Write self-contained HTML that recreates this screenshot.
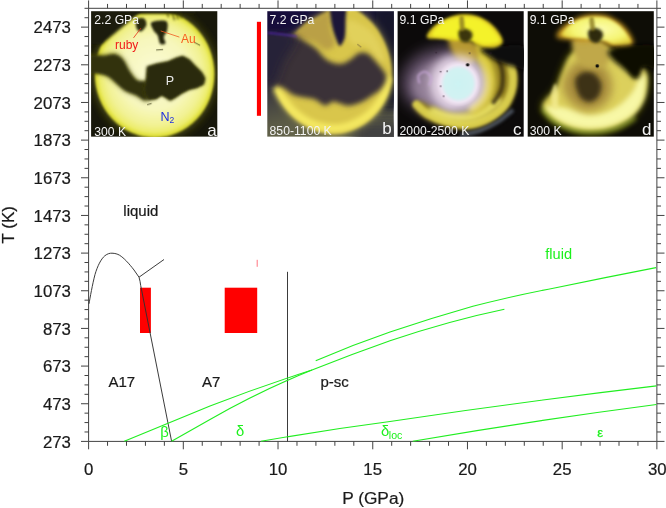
<!DOCTYPE html>
<html><head><meta charset="utf-8"><title>Phase diagram</title>
<style>
html,body{margin:0;padding:0;background:#fff;}
svg{display:block;will-change:transform;}
text{font-family:"Liberation Sans",Arial,sans-serif;}
</style></head><body>
<svg width="666" height="508" viewBox="0 0 666 508">
<rect width="666" height="508" fill="#fff"/>

<defs>
<filter id="b1" filterUnits="userSpaceOnUse" x="-30" y="-30" width="190" height="190"><feGaussianBlur stdDeviation="1"/></filter>
<filter id="b15" filterUnits="userSpaceOnUse" x="-30" y="-30" width="190" height="190"><feGaussianBlur stdDeviation="1.6"/></filter>
<filter id="b2" filterUnits="userSpaceOnUse" x="-30" y="-30" width="190" height="190"><feGaussianBlur stdDeviation="2.4"/></filter>
<filter id="b4" filterUnits="userSpaceOnUse" x="-30" y="-30" width="190" height="190"><feGaussianBlur stdDeviation="4"/></filter>
<filter id="b7" filterUnits="userSpaceOnUse" x="-30" y="-30" width="190" height="190"><feGaussianBlur stdDeviation="7"/></filter>

<radialGradient id="ga" cx="0.5" cy="0.5" r="0.5">
<stop offset="0" stop-color="#fbfbd6"/><stop offset="0.6" stop-color="#f7f7bc"/><stop offset="0.85" stop-color="#f2f294"/><stop offset="1" stop-color="#ecec60"/></radialGradient>

<linearGradient id="gbbg" x1="0" y1="0" x2="0.25" y2="1">
<stop offset="0" stop-color="#140e3c"/><stop offset="0.3" stop-color="#201a3c"/><stop offset="0.6" stop-color="#3a3840"/><stop offset="0.85" stop-color="#5a5a46"/><stop offset="1" stop-color="#66664c"/></linearGradient>
<radialGradient id="gb" cx="0.55" cy="0.5" r="0.5">
<stop offset="0" stop-color="#e6d670"/><stop offset="0.7" stop-color="#e0d060"/><stop offset="0.92" stop-color="#d6c648"/><stop offset="1" stop-color="#a09030"/></radialGradient>

</defs>
<svg x="91.1" y="11.2" width="126.2" height="125.5" viewBox="0 0 126.2 125.5" overflow="hidden">
<rect width="126.2" height="125.5" fill="#17170a"/>
<ellipse cx="63.5" cy="62.8" rx="62" ry="66" fill="#4c4c12" filter="url(#b4)"/>
<ellipse cx="63.5" cy="62.8" rx="59.8" ry="63.6" fill="#dede38" filter="url(#b1)"/>
<ellipse cx="63.5" cy="62.6" rx="57" ry="60.4" fill="url(#ga)" filter="url(#b15)"/>
<path d="M-5 34 L10.5 33 L46 3.4 L52 -5 L-5 -5Z" fill="#1c1c0a" filter="url(#b15)"/>
<path d="M-5.2 45.3 C-2.2 42.5 7.9 44.7 12.7 44.2 C17.5 43.8 20.5 41.9 23.7 42.6 C26.9 43.2 29.4 45.1 31.9 48.1 C34.5 51.1 36.3 56.8 38.8 60.5 C41.4 64.1 44.1 68.2 47.1 70.1 C50.1 72.1 55.1 69.0 56.7 72.2 C58.3 75.4 58.6 87.4 56.7 89.4 C54.9 91.4 49.4 85.8 45.7 84.2 C42.0 82.5 37.9 81.6 34.7 79.7 C31.5 77.9 29.4 75.3 26.4 72.9 C23.5 70.4 20.2 66.7 16.8 64.9 C13.4 63.0 9.5 62.5 5.8 61.8 C2.1 61.2 -3.4 63.9 -5.2 61.2 C-7.1 58.4 -8.2 48.1 -5.2 45.3Z" fill="#45450f" filter="url(#b2)"/>
<path d="M-5.2 45.3 C-2.2 42.5 7.9 44.7 12.7 44.2 C17.5 43.8 20.5 41.9 23.7 42.6 C26.9 43.2 29.4 45.1 31.9 48.1 C34.5 51.1 36.3 56.8 38.8 60.5 C41.4 64.1 44.1 68.2 47.1 70.1 C50.1 72.1 55.1 69.0 56.7 72.2 C58.3 75.4 58.6 87.4 56.7 89.4 C54.9 91.4 49.4 85.8 45.7 84.2 C42.0 82.5 37.9 81.6 34.7 79.7 C31.5 77.9 29.4 75.3 26.4 72.9 C23.5 70.4 20.2 66.7 16.8 64.9 C13.4 63.0 9.5 62.5 5.8 61.8 C2.1 61.2 -3.4 63.9 -5.2 61.2 C-7.1 58.4 -8.2 48.1 -5.2 45.3Z" fill="#33330b" filter="url(#b15)" transform="translate(1.2 3.2) scale(0.95)"/>
<path d="M55.5 55.2 L65.3 52.2 L77.0 49.9 L84.8 46.4 L91.6 44.4 L98.4 47.9 L104.3 54.2 L111.1 61.0 L114.5 66.9 L113.1 73.3 L106.3 76.6 L98.4 78.6 L90.6 82.5 L83.8 87.0 L78.9 89.7 L74.1 86.4 L70.1 84.4 L64.3 88.3 L56.5 88.9 L53.2 84.4 L52.0 77.6 L54.5 67.8Z" fill="#3a3a0c" filter="url(#b15)"/>
<path d="M55.5 55.2 L65.3 52.2 L77.0 49.9 L84.8 46.4 L91.6 44.4 L98.4 47.9 L104.3 54.2 L111.1 61.0 L114.5 66.9 L113.1 73.3 L106.3 76.6 L98.4 78.6 L90.6 82.5 L83.8 87.0 L78.9 89.7 L74.1 86.4 L70.1 84.4 L64.3 88.3 L56.5 88.9 L53.2 84.4 L52.0 77.6 L54.5 67.8Z" fill="#2b2b08" filter="url(#b1)" transform="translate(4.2 3.4) scale(0.95)"/>
<rect x="28" y="-6" width="76" height="8.6" fill="#1e1e08" filter="url(#b1)"/>
<path d="M81 1 L83.5 9 M85.5 1 L87 8 M89.5 1 L90.5 7 M76 1 L77.5 6" stroke="#3a3a0c" stroke-width="1.3" fill="none" filter="url(#b1)" opacity="0.85"/>
<path d="M65 38.8 L72 38.3 M103 31 L109 34.2 M56 93.5 L60.5 92.3" stroke="#2c2c0a" stroke-width="0.9" fill="none" opacity="0.8"/>
<path d="M44.9 8.5 C46.1 6.8 51.0 6.3 52.7 7.2 C54.5 8.1 55.8 11.5 55.3 13.7 C54.9 15.8 51.7 19.5 50.1 20.2 C48.5 20.8 46.6 19.5 45.7 17.6 C44.9 15.6 43.8 10.2 44.9 8.5Z" fill="#2a2a0a" filter="url(#b1)"/>
<path d="M60.5 11.1 C62.6 9.6 72.2 8.5 74.8 9.8 C77.4 11.1 76.5 16.3 76.1 18.9 C75.8 21.5 73.0 23.2 72.7 25.4 C72.4 27.5 74.9 30.6 74.3 31.9 C73.7 33.1 70.4 33.9 69.1 32.6 C67.8 31.3 67.6 26.4 66.5 24.1 C65.4 21.8 63.3 21.0 62.3 18.9 C61.3 16.7 58.4 12.6 60.5 11.1Z" fill="#26260a" filter="url(#b1)"/>
</svg>
<svg x="267.3" y="11.2" width="126.2" height="125.5" viewBox="0 0 126.2 125.5" overflow="hidden">
<rect width="126.2" height="125.5" fill="url(#gbbg)"/>
<rect x="104" y="-10" width="40" height="110" fill="#16162a" filter="url(#b7)" opacity="0.9"/>
<rect x="85" y="108" width="60" height="30" fill="#3c3c40" filter="url(#b7)" opacity="0.9"/>
<path d="M84.7 -3.2 C89.3 -1.9 90.5 -0.5 94.2 2.3 C97.9 5.1 103.1 9.5 106.7 13.7 C110.3 17.9 113.1 22.5 115.6 27.5 C118.1 32.5 120.4 38.4 121.9 43.9 C123.4 49.5 124.4 55.3 124.4 60.8 C124.4 66.3 123.8 71.1 121.9 76.9 C120.0 82.7 116.7 90.3 113.1 95.8 C109.5 101.3 105.1 105.9 100.5 109.7 C95.9 113.5 90.6 116.3 85.4 118.5 C80.1 120.6 74.8 122.4 69.0 122.6 C63.2 122.8 56.7 121.8 50.7 119.8 C44.6 117.8 38.0 114.6 32.7 110.8 C27.4 107.0 22.4 101.8 18.7 96.8 C15.0 91.8 12.4 85.8 10.7 80.8 C8.9 75.8 8.5 72.1 8.2 66.8 C7.9 61.5 7.3 54.5 8.7 48.8 C10.1 43.1 13.5 37.0 16.7 32.8 C19.9 28.5 24.7 26.3 27.7 23.3 C30.7 20.3 32.0 17.1 34.7 14.8 C37.4 12.6 40.7 11.5 43.7 9.8 C46.7 8.1 50.0 6.3 52.7 4.8 C55.4 3.3 57.4 2.5 59.7 0.8 C62.0 -0.9 62.5 -4.5 66.7 -5.2 C70.9 -5.9 80.1 -4.4 84.7 -3.2Z" fill="#8c8448" filter="url(#b4)"/>
<path d="M84.7 -3.2 C89.3 -1.9 90.5 -0.5 94.2 2.3 C97.9 5.1 103.1 9.5 106.7 13.7 C110.3 17.9 113.1 22.5 115.6 27.5 C118.1 32.5 120.4 38.4 121.9 43.9 C123.4 49.5 124.4 55.3 124.4 60.8 C124.4 66.3 123.8 71.1 121.9 76.9 C120.0 82.7 116.7 90.3 113.1 95.8 C109.5 101.3 105.1 105.9 100.5 109.7 C95.9 113.5 90.6 116.3 85.4 118.5 C80.1 120.6 74.8 122.4 69.0 122.6 C63.2 122.8 56.7 121.8 50.7 119.8 C44.6 117.8 38.0 114.6 32.7 110.8 C27.4 107.0 22.4 101.8 18.7 96.8 C15.0 91.8 12.4 85.8 10.7 80.8 C8.9 75.8 8.5 72.1 8.2 66.8 C7.9 61.5 7.3 54.5 8.7 48.8 C10.1 43.1 13.5 37.0 16.7 32.8 C19.9 28.5 24.7 26.3 27.7 23.3 C30.7 20.3 32.0 17.1 34.7 14.8 C37.4 12.6 40.7 11.5 43.7 9.8 C46.7 8.1 50.0 6.3 52.7 4.8 C55.4 3.3 57.4 2.5 59.7 0.8 C62.0 -0.9 62.5 -4.5 66.7 -5.2 C70.9 -5.9 80.1 -4.4 84.7 -3.2Z" fill="#d9c64c" filter="url(#b15)"/>
<path d="M120.7 68.8 C119.9 71.5 118.7 79.6 116.2 84.8 C113.7 90.0 109.6 95.6 105.7 99.8 C101.8 104.0 97.4 107.1 92.7 109.8 C88.0 112.5 83.0 114.6 77.7 115.8 C72.4 117.0 66.5 117.5 60.7 116.8 C54.9 116.1 48.2 114.3 42.7 111.8 C37.2 109.3 32.2 105.8 27.7 101.8 C23.2 97.8 18.6 91.8 15.7 87.8 C12.8 83.8 11.1 79.5 10.2 77.8" fill="none" stroke="#f6ea62" stroke-width="8" stroke-linecap="round" filter="url(#b2)"/>
<path d="M82.7 8.8 C87.0 9.1 99.0 15.0 104.7 20.8 C110.4 26.6 115.4 38.8 116.7 43.8 C118.0 48.8 115.7 52.3 112.7 50.8 C109.7 49.3 103.4 37.8 98.7 34.8 C94.0 31.8 88.0 35.5 84.7 32.8 C81.4 30.1 79.0 22.8 78.7 18.8 C78.4 14.8 78.4 8.5 82.7 8.8Z" fill="#e4d460" filter="url(#b2)" opacity="0.8"/>
<path d="M24.7 24.8 C27.0 22.1 30.4 18.1 34.7 14.8 C39.0 11.5 46.2 7.1 50.7 4.8 C55.2 2.5 59.5 -1.5 61.7 0.8 C63.9 3.1 62.7 13.5 63.7 18.8 C64.7 24.1 68.5 29.5 67.7 32.8 C66.9 36.1 62.2 39.1 58.7 38.8 C55.2 38.5 51.0 32.5 46.7 30.8 C42.4 29.1 37.0 28.8 32.7 28.8 C28.4 28.8 22.0 31.5 20.7 30.8 C19.4 30.1 22.4 27.5 24.7 24.8Z" fill="#b09444" opacity="0.75" filter="url(#b2)"/>
<path d="M-27.3 8.8 C-20.6 0.3 3.4 19.0 12.7 21.8 C22.0 24.6 22.8 23.1 28.5 25.4 C34.2 27.7 41.5 31.9 46.7 35.8 C51.9 39.7 55.4 46.0 59.7 48.8 C64.0 51.6 68.9 52.7 72.7 52.7 C76.5 52.7 79.5 50.6 82.7 48.8 C85.9 47.0 88.7 42.8 91.7 41.8 C94.7 40.8 97.4 40.8 100.5 42.6 C103.6 44.4 107.6 49.3 110.6 52.7 C113.5 56.1 116.9 59.9 118.2 62.8 C119.4 65.7 118.9 67.7 118.1 70.3 C117.2 72.9 115.4 75.8 113.1 78.2 C110.8 80.6 107.5 82.4 104.3 84.5 C101.2 86.6 98.0 89.1 94.2 90.8 C90.4 92.5 85.2 94.2 81.6 94.5 C78.0 94.8 75.3 93.0 72.7 92.3 C70.0 91.6 68.2 90.0 65.7 90.3 C63.2 90.6 60.9 94.7 57.7 94.3 C54.5 93.9 51.6 89.5 46.5 87.8 C41.4 86.1 33.2 86.2 27.0 83.9 C20.8 81.6 18.4 76.0 9.4 74.2 C0.3 72.4 -21.2 83.7 -27.3 72.8 C-33.4 61.9 -34.0 17.3 -27.3 8.8Z" fill="#3b3338" filter="url(#b2)"/>
<path d="M-12 16 L20 20 L30 28 L16 50 L8 72 L-12 76Z" fill="#262238" filter="url(#b4)"/>
<path d="M-10 -10 L40 -10 L34 14 L16 20 L-10 22Z" fill="#150f3a" filter="url(#b2)"/>
<path d="M62.7 -9.2 C65.1 -11.5 75.1 -12.5 77.7 -9.2 C80.3 -5.9 78.2 5.1 78.2 10.8 C78.2 16.5 78.1 21.5 77.7 24.8 C77.3 28.1 76.6 29.1 75.7 30.8 C74.8 32.5 73.6 35.1 72.5 34.8 C71.4 34.5 70.4 31.8 69.2 28.8 C68.0 25.8 66.2 20.8 65.2 16.8 C64.2 12.8 63.6 9.1 63.2 4.8 C62.8 0.5 60.3 -6.9 62.7 -9.2Z" fill="#1c1238" filter="url(#b15)"/>
<path d="M0.5 21.5 L29.5 25" stroke="#5c2cc0" stroke-width="1.3" opacity="0.85" filter="url(#b1)"/>
<path d="M90 33 L94 36" stroke="#5a4c38" stroke-width="1" opacity="0.7"/>
</svg><defs>
<radialGradient id="gchot" cx="0.5" cy="0.5" r="0.5">
<stop offset="0" stop-color="#cdf3f3"/><stop offset="0.62" stop-color="#d2f2f2"/><stop offset="0.8" stop-color="#f0e6f4"/><stop offset="1" stop-color="#f0e0f0" stop-opacity="0"/></radialGradient>
<radialGradient id="gdlobe" cx="0.55" cy="0.45" r="0.6">
<stop offset="0" stop-color="#fcfcb0"/><stop offset="0.65" stop-color="#f6f674"/><stop offset="1" stop-color="#e6d23c"/></radialGradient>
</defs>
<svg x="397.6" y="11.2" width="126.2" height="125.5" viewBox="0 0 126.2 125.5" overflow="hidden">
<rect width="126.2" height="125.5" fill="#0c0a0a"/>
<path d="M4.3 64.4 C6.5 56.9 13.0 47.8 21.8 42.9 C30.6 38.1 46.9 34.2 57.0 35.1 C67.0 36.1 76.8 42.0 82.3 48.8 C87.9 55.6 90.5 67.7 90.1 76.1 C89.8 84.6 85.9 94.3 80.4 99.6 C74.9 104.8 65.7 107.0 57.0 107.4 C48.2 107.7 35.8 104.8 27.7 101.5 C19.5 98.2 12.1 94.0 8.2 87.8 C4.3 81.7 2.0 71.9 4.3 64.4Z" fill="#5c4c62" filter="url(#b7)"/>
<path d="M16.0 66.4 C18.7 60.8 26.7 54.0 33.5 50.8 C40.4 47.5 53.1 39.0 57.0 46.8 C60.9 54.7 60.9 89.3 57.0 97.6 C53.1 105.9 40.2 98.9 33.5 96.6 C26.9 94.3 19.9 89.0 16.9 83.9 C14.0 78.9 13.2 71.9 16.0 66.4Z" fill="#9c88a0" filter="url(#b4)" opacity="0.85"/>
<path d="M76.5 35.1 C80.7 34.5 93.4 38.1 99.9 41.0 C106.4 43.9 112.3 48.1 115.5 52.7 C118.7 57.3 118.8 63.4 119.0 68.3 C119.2 73.2 118.4 77.0 116.7 82.0 C115.0 86.9 113.0 93.0 108.9 98.0 C104.8 102.9 98.1 108.3 92.1 111.7 C86.0 115.0 80.1 117.4 72.6 117.9 C65.1 118.4 54.7 116.6 47.2 114.8 C39.7 113.0 32.8 110.2 27.7 107.0 C22.5 103.7 17.0 98.0 16.4 95.3 C15.7 92.6 20.3 90.4 23.8 90.8 C27.3 91.2 31.9 95.8 37.4 97.6 C43.0 99.4 51.1 101.5 57.0 101.5 C62.8 101.5 68.3 99.9 72.6 97.6 C76.8 95.3 80.1 92.1 82.3 87.8 C84.6 83.6 86.2 77.4 86.2 72.2 C86.2 67.0 84.3 61.2 82.3 56.6 C80.4 52.1 75.5 48.5 74.5 44.9 C73.6 41.3 72.2 35.8 76.5 35.1Z" fill="#9a8828" filter="url(#b2)"/>
<path d="M113.6 53.7 C113.9 56.0 115.5 62.8 115.5 67.3 C115.5 71.9 115.2 76.3 113.6 81.0 C111.9 85.7 109.7 91.3 105.8 95.6 C101.9 100.0 95.8 104.4 90.1 107.4 C84.4 110.3 78.6 112.7 71.6 113.2 C64.6 113.7 55.2 112.1 48.2 110.3 C41.2 108.5 34.5 105.3 29.6 102.5 C24.8 99.6 20.7 94.8 18.9 93.3" fill="none" stroke="#d8cc4c" stroke-width="8" stroke-linecap="round" filter="url(#b15)"/>
<path d="M99.9 89.8 C97.6 91.6 91.1 97.8 86.2 100.5 C81.4 103.3 76.5 105.6 70.6 106.4 C64.8 107.2 57.0 106.5 51.1 105.4 C45.2 104.3 38.1 100.9 35.5 99.9" fill="none" stroke="#e6de62" stroke-width="9" stroke-linecap="round" filter="url(#b2)"/>
<path d="M80.4 39.0 C81.8 41.6 87.2 49.1 89.2 54.7 C91.1 60.2 92.4 66.7 92.1 72.2 C91.8 77.8 89.8 83.6 87.2 87.8 C84.6 92.1 78.3 96.0 76.5 97.6" fill="none" stroke="#dccc3c" stroke-width="11" stroke-linecap="round" filter="url(#b2)"/>
<path d="M99.9 44.9 C100.7 47.5 104.1 55.0 104.8 60.5 C105.4 66.0 105.3 73.0 103.8 78.1 C102.3 83.1 97.3 88.7 96.0 90.8" fill="none" stroke="#3a2e10" stroke-width="4.5" stroke-linecap="round" filter="url(#b15)" opacity="0.85"/>
<path d="M82.3 37.4 C84.6 35.8 97.1 34.9 104.8 34.7 C112.4 34.5 124.3 32.5 128.2 36.3 C132.1 40.1 129.9 54.1 128.2 57.4 C126.5 60.6 120.9 56.4 117.9 55.8 C114.8 55.2 113.0 54.8 110.1 53.8 C107.1 52.9 103.4 51.8 100.3 50.3 C97.2 48.8 94.3 47.0 91.3 44.9 C88.3 42.7 80.1 39.1 82.3 37.4Z" fill="#0e0a0a" filter="url(#b2)"/>
<path d="M62.8 124.0 C66.1 123.2 76.2 121.6 82.3 119.5 C88.5 117.3 94.4 114.4 99.9 110.9 C105.4 107.4 112.9 100.6 115.5 98.6" fill="none" stroke="#5a6472" stroke-width="4" filter="url(#b15)" opacity="0.8"/>
<path d="M51.1 28.1 C52.4 25.5 58.6 25.5 62.8 26.1 C67.0 26.8 73.6 29.1 76.5 32.0 C79.4 34.9 81.0 40.1 80.4 43.7 C79.7 47.3 75.5 52.2 72.6 53.5 C69.6 54.8 65.7 53.5 62.8 51.5 C59.9 49.6 57.0 45.6 55.0 41.7 C53.1 37.8 49.8 30.7 51.1 28.1Z" fill="#b89a30" filter="url(#b2)"/>
<path d="M29.6 26.5 C27.7 24.7 31.5 20.1 33.9 17.3 C36.3 14.5 40.0 12.0 44.1 9.7 C48.1 7.5 52.7 4.9 58.1 3.9 C63.5 2.9 71.1 2.8 76.5 3.9 C81.8 4.9 86.2 7.5 90.1 10.1 C94.1 12.8 97.8 16.5 100.3 19.9 C102.8 23.3 105.5 27.8 105.2 30.4 C104.8 33.1 101.5 35.0 98.3 35.9 C95.2 36.8 89.7 36.4 86.2 35.9 C82.8 35.4 79.7 34.1 77.5 32.8 C75.2 31.5 76.0 28.5 72.6 28.1 C69.2 27.6 61.5 30.0 57.0 30.0 C52.4 30.0 49.8 28.7 45.2 28.1 C40.7 27.5 31.5 28.3 29.6 26.5Z" fill="#e0cc20" filter="url(#b15)"/>
<path d="M34.3 23.8 C34.0 21.5 39.3 15.3 43.3 12.5 C47.3 9.6 52.6 7.6 58.1 6.6 C63.7 5.6 71.4 5.6 76.5 6.6 C81.6 7.6 85.0 9.9 88.6 12.5 C92.2 15.0 95.8 18.8 97.9 21.8 C100.1 24.8 103.4 28.5 101.5 30.4 C99.5 32.3 90.2 33.2 86.2 33.2 C82.2 33.1 82.3 31.0 77.5 30.0 C72.6 29.1 62.3 27.9 57.0 27.3 C51.6 26.6 49.0 26.7 45.2 26.1 C41.5 25.5 34.6 26.1 34.3 23.8Z" fill="#f4f22a" filter="url(#b15)"/>
<path d="M60.9 20.3 C61.5 18.3 64.6 17.3 66.7 17.3 C68.8 17.3 72.2 18.8 73.6 20.3 C74.9 21.7 75.2 24.3 74.5 26.1 C73.9 27.9 71.6 30.5 69.6 31.0 C67.7 31.5 64.3 30.8 62.8 29.1 C61.4 27.3 60.2 22.2 60.9 20.3Z" fill="#3a3410" filter="url(#b15)"/>
<path d="M61.8 6.6 C62.3 4.5 64.9 3.7 65.7 5.6 C66.6 7.6 67.2 16.2 66.7 18.3 C66.2 20.4 63.6 20.3 62.8 18.3 C62.0 16.4 61.4 8.7 61.8 6.6Z" fill="#8a7a20" filter="url(#b1)" opacity="0.8"/>
<circle cx="60.8" cy="72.6" r="29" fill="#f4e6f6" opacity="0.8" filter="url(#b4)"/>
<ellipse cx="60.9" cy="72.3" rx="22.5" ry="23.5" fill="url(#gchot)"/>
<path d="M21.8 72.2 C21.7 70.9 19.9 66.4 20.8 64.4 C21.8 62.5 25.6 60.2 27.7 60.5 C29.8 60.8 32.9 64.1 33.5 66.4 C34.2 68.6 31.9 72.9 31.6 74.2" fill="none" stroke="#c8a8d8" stroke-width="2" filter="url(#b1)" opacity="0.8"/>
<circle cx="70" cy="53.6" r="1.7" fill="#101010"/>
<circle cx="43" cy="60.5" r="0.7" fill="#302030"/>
<circle cx="49.5" cy="60" r="0.7" fill="#302030"/>
<circle cx="43" cy="75" r="0.7" fill="#302030"/>
<circle cx="46" cy="85" r="0.7" fill="#302030"/>
<circle cx="38.5" cy="41.5" r="0.7" fill="#302030"/>
<circle cx="72" cy="42" r="0.7" fill="#302030"/>
<circle cx="93" cy="42" r="0.7" fill="#302030"/>
</svg>
<svg x="527.7" y="11.2" width="126.2" height="125.5" viewBox="0 0 126.2 125.5" overflow="hidden">
<rect width="126.2" height="125.5" fill="#0e0d06"/>
<path d="M43.2 42.9 C47.9 38.4 56.2 34.2 62.7 33.2 C69.2 32.2 76.7 34.2 82.2 37.1 C87.8 40.0 91.7 45.5 95.9 50.8 C100.1 56.0 104.4 67.3 107.6 68.3 C110.9 69.3 113.3 56.6 115.4 56.6 C117.5 56.6 120.0 63.0 120.1 68.3 C120.2 73.7 118.8 82.6 116.2 88.8 C113.6 95.0 109.5 100.9 104.7 105.4 C99.8 110.0 93.5 113.7 87.1 116.1 C80.8 118.6 73.5 119.9 66.6 120.2 C59.8 120.6 52.8 120.0 46.1 118.3 C39.5 116.5 31.8 113.3 26.6 109.7 C21.4 106.1 16.2 100.3 14.7 96.8 C13.2 93.3 15.7 91.9 17.8 88.8 C20.0 85.7 24.8 82.8 27.6 78.1 C30.3 73.4 31.8 66.4 34.4 60.5 C37.0 54.7 38.5 47.5 43.2 42.9Z" fill="#7a7a18" filter="url(#b4)"/>
<path d="M43.2 42.9 C47.9 38.4 56.2 34.2 62.7 33.2 C69.2 32.2 76.7 34.2 82.2 37.1 C87.8 40.0 91.7 45.5 95.9 50.8 C100.1 56.0 104.4 67.3 107.6 68.3 C110.9 69.3 113.3 56.6 115.4 56.6 C117.5 56.6 120.0 63.0 120.1 68.3 C120.2 73.7 118.8 82.6 116.2 88.8 C113.6 95.0 109.5 100.9 104.7 105.4 C99.8 110.0 93.5 113.7 87.1 116.1 C80.8 118.6 73.5 119.9 66.6 120.2 C59.8 120.6 52.8 120.0 46.1 118.3 C39.5 116.5 31.8 113.3 26.6 109.7 C21.4 106.1 16.2 100.3 14.7 96.8 C13.2 93.3 15.7 91.9 17.8 88.8 C20.0 85.7 24.8 82.8 27.6 78.1 C30.3 73.4 31.8 66.4 34.4 60.5 C37.0 54.7 38.5 47.5 43.2 42.9Z" fill="#dcd05c" filter="url(#b2)" transform="translate(1.4 1) scale(0.98)"/>
<path d="M107.6 106.6 C104.6 108.2 96.5 114.2 89.7 116.5 C82.8 118.9 74.0 120.5 66.6 120.8 C59.3 121.2 52.3 120.5 45.5 118.7 C38.8 116.8 31.2 113.3 26.0 109.7 C20.9 106.1 16.6 99.3 14.7 97.2" fill="none" stroke="#b4cc34" stroke-width="4" filter="url(#b2)" opacity="0.7"/>
<path d="M117.8 63.4 C118.5 66.7 118.0 80.2 115.8 86.9 C113.6 93.5 109.5 99.1 104.7 103.5 C99.9 107.8 93.5 110.9 87.1 113.2 C80.8 115.5 73.4 116.8 66.6 117.1 C59.9 117.4 53.1 116.8 46.7 115.2 C40.4 113.5 33.4 110.6 28.6 107.4 C23.7 104.1 16.4 97.4 17.8 95.6 C19.3 93.9 29.9 95.3 37.3 96.6 C44.8 97.9 54.6 103.3 62.7 103.5 C70.8 103.6 79.3 101.2 86.1 97.6 C93.0 94.0 99.5 87.0 103.7 82.0 C107.9 76.9 109.2 70.4 111.5 67.3 C113.9 64.3 117.0 60.2 117.8 63.4Z" fill="#f8f8a6" filter="url(#b2)"/>
<path d="M37.3 64.4 C39.6 59.9 44.2 53.4 49.1 50.8 C53.9 48.1 61.4 47.2 66.6 48.8 C71.8 50.4 77.4 55.6 80.3 60.5 C83.2 65.4 84.8 72.5 84.2 78.1 C83.5 83.6 80.6 90.1 76.4 93.7 C72.1 97.3 64.3 99.9 58.8 99.6 C53.3 99.2 47.1 95.3 43.2 91.7 C39.3 88.2 36.4 82.6 35.4 78.1 C34.4 73.5 35.1 69.0 37.3 64.4Z" fill="#a88c3c" filter="url(#b4)" opacity="0.95"/>
<path d="M23.7 82.0 C24.2 78.1 26.4 72.2 27.6 72.2 C28.7 72.2 30.2 77.8 30.5 82.0 C30.8 86.2 30.5 95.3 29.5 97.6 C28.6 99.9 25.6 98.2 24.7 95.6 C23.7 93.0 23.2 85.9 23.7 82.0Z" fill="#f4ec90" filter="url(#b15)" opacity="0.8"/>
<path d="M48.1 66.4 C49.5 63.8 53.8 61.2 56.9 60.5 C59.9 59.9 63.9 60.5 66.6 62.5 C69.4 64.4 72.6 68.6 73.5 72.2 C74.3 75.8 73.3 80.8 71.5 83.9 C69.7 87.0 65.8 90.3 62.7 90.8 C59.6 91.3 55.4 89.3 53.0 86.9 C50.5 84.4 48.9 79.5 48.1 76.1 C47.3 72.7 46.6 69.0 48.1 66.4Z" fill="#3e3212" filter="url(#b2)"/>
<path d="M45.1 28.1 C47.7 25.2 57.5 25.5 62.7 26.1 C67.9 26.8 73.1 29.1 76.4 32.0 C79.6 34.9 82.2 39.8 82.2 43.7 C82.2 47.6 80.6 53.5 76.4 55.4 C72.1 57.4 61.7 57.4 56.9 55.4 C52.0 53.5 49.1 48.2 47.1 43.7 C45.1 39.1 42.5 31.0 45.1 28.1Z" fill="#c0a848" filter="url(#b2)"/>
<path d="M29.1 26.1 C27.3 24.1 31.3 19.6 33.8 16.8 C36.4 14.0 40.3 11.5 44.4 9.3 C48.5 7.2 53.1 4.6 58.4 3.7 C63.8 2.7 71.0 2.6 76.4 3.7 C81.7 4.8 86.4 7.4 90.4 10.1 C94.5 12.9 98.0 16.6 100.6 20.3 C103.1 23.9 105.8 29.1 105.7 32.0 C105.5 34.8 103.1 36.8 99.8 37.4 C96.5 38.1 90.0 36.8 86.1 35.9 C82.2 35.0 78.7 33.2 76.4 32.0 C74.1 30.7 75.7 28.7 72.5 28.5 C69.2 28.2 61.4 30.4 56.9 30.4 C52.3 30.5 49.8 29.6 45.1 28.9 C40.5 28.1 31.0 28.1 29.1 26.1Z" fill="#c89820" filter="url(#b2)"/>
<path d="M34.2 23.4 C34.0 21.1 39.6 15.3 43.6 12.5 C47.6 9.6 53.0 7.3 58.4 6.2 C63.9 5.2 71.2 5.2 76.4 6.2 C81.5 7.3 85.6 9.9 89.3 12.5 C92.9 15.1 96.0 18.5 98.2 21.8 C100.5 25.2 104.6 30.5 102.5 32.4 C100.5 34.3 90.3 33.6 86.1 33.2 C81.9 32.7 82.2 30.6 77.4 29.6 C72.5 28.7 62.2 27.8 56.9 27.3 C51.5 26.8 48.9 27.2 45.1 26.5 C41.4 25.9 34.5 25.7 34.2 23.4Z" fill="url(#gdlobe)" filter="url(#b15)"/>
<path d="M60.4 20.3 C61.1 18.2 64.3 16.8 66.6 16.8 C68.9 16.7 72.7 18.3 74.0 19.9 C75.4 21.4 75.6 24.2 74.8 26.1 C74.1 28.1 71.6 31.1 69.5 31.6 C67.5 32.1 63.9 30.9 62.3 29.1 C60.8 27.2 59.7 22.3 60.4 20.3Z" fill="#2e2a0c" filter="url(#b15)"/>
<path d="M61.7 7.6 C62.2 5.6 64.8 4.8 65.6 6.6 C66.5 8.4 67.4 16.4 67.0 18.3 C66.6 20.3 64.0 20.1 63.1 18.3 C62.2 16.5 61.3 9.5 61.7 7.6Z" fill="#8a7a20" filter="url(#b1)" opacity="0.8"/>
<path d="M81.3 38.8 C84.7 36.6 96.7 34.8 104.7 34.3 C112.7 33.8 125.0 32.0 129.1 35.9 C133.1 39.7 131.4 54.3 129.1 57.4 C126.8 60.4 118.7 52.8 115.4 54.4 C112.2 56.1 112.8 66.6 109.6 67.1 C106.3 67.6 100.1 60.6 95.9 57.4 C91.7 54.1 86.6 50.7 84.2 47.6 C81.7 44.5 77.8 41.0 81.3 38.8Z" fill="#0e0d06" filter="url(#b2)"/>
<circle cx="69.5" cy="54.7" r="1.8" fill="#0a0a0a"/>
</svg>
<g stroke="#424242" stroke-width="1" fill="none">
<path d="M88.60 8.31H656.89V441.40H88.60Z"/>
<path d="M88.60 441.40v7.9M88.60 8.31v-7.9M107.54 441.40v4.4M107.54 8.31v-4.4M126.49 441.40v4.4M126.49 8.31v-4.4M145.43 441.40v4.4M145.43 8.31v-4.4M164.37 441.40v4.4M164.37 8.31v-4.4M183.31 441.40v7.9M183.31 8.31v-7.9M202.26 441.40v4.4M202.26 8.31v-4.4M221.20 441.40v4.4M221.20 8.31v-4.4M240.14 441.40v4.4M240.14 8.31v-4.4M259.09 441.40v4.4M259.09 8.31v-4.4M278.03 441.40v7.9M278.03 8.31v-7.9M296.97 441.40v4.4M296.97 8.31v-4.4M315.92 441.40v4.4M315.92 8.31v-4.4M334.86 441.40v4.4M334.86 8.31v-4.4M353.80 441.40v4.4M353.80 8.31v-4.4M372.75 441.40v7.9M372.75 8.31v-7.9M391.69 441.40v4.4M391.69 8.31v-4.4M410.63 441.40v4.4M410.63 8.31v-4.4M429.57 441.40v4.4M429.57 8.31v-4.4M448.52 441.40v4.4M448.52 8.31v-4.4M467.46 441.40v7.9M467.46 8.31v-7.9M486.40 441.40v4.4M486.40 8.31v-4.4M505.35 441.40v4.4M505.35 8.31v-4.4M524.29 441.40v4.4M524.29 8.31v-4.4M543.23 441.40v4.4M543.23 8.31v-4.4M562.18 441.40v7.9M562.18 8.31v-7.9M581.12 441.40v4.4M581.12 8.31v-4.4M600.06 441.40v4.4M600.06 8.31v-4.4M619.00 441.40v4.4M619.00 8.31v-4.4M637.95 441.40v4.4M637.95 8.31v-4.4M656.89 441.40v7.9M656.89 8.31v-7.9M88.60 441.40h-7.6M656.89 441.40h7.6M88.60 431.98h-4.1M656.89 431.98h4.1M88.60 422.57h-4.1M656.89 422.57h4.1M88.60 413.15h-4.1M656.89 413.15h4.1M88.60 403.74h-7.6M656.89 403.74h7.6M88.60 394.32h-4.1M656.89 394.32h4.1M88.60 384.91h-4.1M656.89 384.91h4.1M88.60 375.50h-4.1M656.89 375.50h4.1M88.60 366.08h-7.6M656.89 366.08h7.6M88.60 356.66h-4.1M656.89 356.66h4.1M88.60 347.25h-4.1M656.89 347.25h4.1M88.60 337.83h-4.1M656.89 337.83h4.1M88.60 328.42h-7.6M656.89 328.42h7.6M88.60 319.00h-4.1M656.89 319.00h4.1M88.60 309.59h-4.1M656.89 309.59h4.1M88.60 300.17h-4.1M656.89 300.17h4.1M88.60 290.76h-7.6M656.89 290.76h7.6M88.60 281.34h-4.1M656.89 281.34h4.1M88.60 271.93h-4.1M656.89 271.93h4.1M88.60 262.51h-4.1M656.89 262.51h4.1M88.60 253.10h-7.6M656.89 253.10h7.6M88.60 243.68h-4.1M656.89 243.68h4.1M88.60 234.27h-4.1M656.89 234.27h4.1M88.60 224.85h-4.1M656.89 224.85h4.1M88.60 215.44h-7.6M656.89 215.44h7.6M88.60 206.02h-4.1M656.89 206.02h4.1M88.60 196.61h-4.1M656.89 196.61h4.1M88.60 187.19h-4.1M656.89 187.19h4.1M88.60 177.78h-7.6M656.89 177.78h7.6M88.60 168.37h-4.1M656.89 168.37h4.1M88.60 158.95h-4.1M656.89 158.95h4.1M88.60 149.53h-4.1M656.89 149.53h4.1M88.60 140.12h-7.6M656.89 140.12h7.6M88.60 130.70h-4.1M656.89 130.70h4.1M88.60 121.29h-4.1M656.89 121.29h4.1M88.60 111.88h-4.1M656.89 111.88h4.1M88.60 102.46h-7.6M656.89 102.46h7.6M88.60 93.04h-4.1M656.89 93.04h4.1M88.60 83.63h-4.1M656.89 83.63h4.1M88.60 74.21h-4.1M656.89 74.21h4.1M88.60 64.80h-7.6M656.89 64.80h7.6M88.60 55.38h-4.1M656.89 55.38h4.1M88.60 45.97h-4.1M656.89 45.97h4.1M88.60 36.56h-4.1M656.89 36.56h4.1M88.60 27.14h-7.6M656.89 27.14h7.6M88.60 17.72h-4.1M656.89 17.72h4.1M88.60 8.31h-4.1M656.89 8.31h4.1"/>
</g>
<g font-size="16.8" fill="#1a1a1a" stroke="#1a1a1a" stroke-width="0.22">
<text x="70.9" y="447.5" text-anchor="end">273</text>
<text x="70.9" y="409.8" text-anchor="end">473</text>
<text x="70.9" y="372.2" text-anchor="end">673</text>
<text x="70.9" y="334.5" text-anchor="end">873</text>
<text x="70.9" y="296.9" text-anchor="end">1073</text>
<text x="70.9" y="259.2" text-anchor="end">1273</text>
<text x="70.9" y="221.5" text-anchor="end">1473</text>
<text x="70.9" y="183.9" text-anchor="end">1673</text>
<text x="70.9" y="146.2" text-anchor="end">1873</text>
<text x="70.9" y="108.6" text-anchor="end">2073</text>
<text x="70.9" y="70.9" text-anchor="end">2273</text>
<text x="70.9" y="33.2" text-anchor="end">2473</text>
<text x="88.6" y="474.6" text-anchor="middle">0</text>
<text x="183.3" y="474.6" text-anchor="middle">5</text>
<text x="278.0" y="474.6" text-anchor="middle">10</text>
<text x="372.7" y="474.6" text-anchor="middle">15</text>
<text x="467.5" y="474.6" text-anchor="middle">20</text>
<text x="562.2" y="474.6" text-anchor="middle">25</text>
<text x="657.3" y="474.6" text-anchor="middle">30</text>
</g>
<text x="373.2" y="503.8" font-size="17.3" fill="#1a1a1a" stroke="#1a1a1a" stroke-width="0.22" text-anchor="middle">P (GPa)</text>
<text transform="translate(14.4 224.7) rotate(-90)" font-size="17" fill="#1a1a1a" stroke="#1a1a1a" stroke-width="0.22" text-anchor="middle">T (K)</text>
<g fill="none" stroke="#303030" stroke-width="0.95" stroke-linejoin="round">
<path d="M89 303.8 C90 298 92.5 284 95 274.5 C97.5 266 101 259 104.8 255.8 C107.5 253.6 110 253.1 112 253.2 C115 253.3 117.5 254 119.5 255.2 C124 258 129 263.5 134 270 L139 277.2"/>
<path d="M139 277.2 L164 259.5"/>
<path d="M287.5 271.8 V441.4"/>
</g>
<rect x="140" y="287.7" width="10.9" height="45.3" fill="#ff0000"/>
<rect x="224.7" y="287.7" width="32.5" height="45.3" fill="#ff0000"/>
<rect x="256.9" y="21.8" width="4.1" height="94" fill="#ff0000"/>
<path d="M257.2 259.8V266.8" stroke="#ff5060" stroke-width="0.8" fill="none"/>
<path d="M139 277.2 C140 280 140.3 283 140.7 285.5 L171.6 441.3" stroke="#303030" stroke-width="0.95" fill="none"/>
<g fill="none" stroke="#20ee20" stroke-width="1.1">
<path d="M124.3 441.3 L210 406 Q262 386 312 370"/>
<path d="M171.6 441.3 L210 419.4 Q262 390 312 370 Q352 354 390 340.7 Q450 320.5 504.4 309.2"/>
<path d="M315.7 360.8 Q352 345 390 332 Q430 318.5 472.9 306.3 Q512 296 555.8 287.7 Q605 277.5 656 267.6"/>
<path d="M261 441.3 Q325 430 390 421.5 Q520 402 656.4 385.9"/>
<path d="M412.8 441.3 Q530 421 656.4 404.5"/>
</g>
<g font-size="15" fill="#1a1a1a" stroke="#1a1a1a" stroke-width="0.22">
<text x="123.3" y="215.8">liquid</text>
<text x="108.5" y="386.8">A17</text>
<text x="202" y="386.8">A7</text>
<text x="320.5" y="386.8">p-sc</text>
</g>
<text x="545.3" y="258.6" font-size="14.6" fill="#1cf01c">fluid</text>
<g font-size="14.8" fill="#1cf01c">
<text x="160.2" y="436.5">β</text>
<text x="236" y="436.3">δ</text>
<text x="380.9" y="436.1">δ<tspan font-size="10.6" dy="2.8" dx="-0.3">loc</tspan></text>
<text x="597.3" y="436.5" font-size="13" stroke="#1cf01c" stroke-width="0.25">ε</text>
</g>
<g font-size="12.2" fill="#f4f4f4">
<text x="94.3" y="23.8">2.2 GPa</text>
<text x="94.3" y="135.9">300 K</text>
<text x="269.6" y="23.8">7.2 GPa</text>
<text x="269.6" y="135.2">850-1100 K</text>
<text x="399.6" y="23.8">9.1 GPa</text>
<text x="399.6" y="135.2">2000-2500 K</text>
<text x="529.8" y="23.8">9.1 GPa</text>
<text x="529.8" y="135.2">300 K</text>
</g>
<g font-size="17" fill="#f4f4f4">
<text x="207.3" y="135.5">a</text>
<text x="382.3" y="134">b</text>
<text x="513" y="134.8">c</text>
<text x="642" y="134.8">d</text>
</g>
<g font-size="12" >
<text x="115" y="48.5" fill="#f01818">ruby</text>
<text x="181" y="43" fill="#f86020">Au</text>
<text x="165.8" y="84.5" fill="#e8e8e8" font-size="12.5">P</text>
<text x="160.5" y="120.5" fill="#1c2ce0" font-size="12.5">N<tspan font-size="8.5" dy="2.5">2</tspan></text>
</g>
<path d="M133.5 37.9L140.9 28.2" stroke="#e83018" stroke-width="0.8"/>
<path d="M160.7 30.9L179.4 37.1" stroke="#f05a20" stroke-width="0.8"/>

</svg></body></html>
